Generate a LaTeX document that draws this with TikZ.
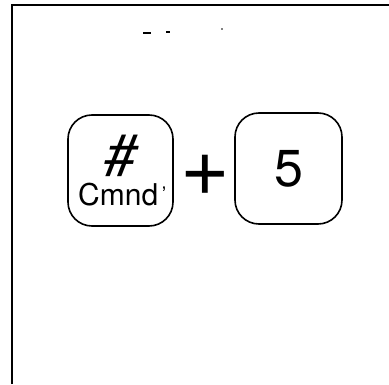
\documentclass[tikz,border=0pt]{standalone}
\usepackage{fontspec}
\setmainfont{TeX Gyre Heros}
\usetikzlibrary{positioning}
\tikzset{
  keycap/.style={draw, line width=1.6pt, rounded corners=24pt,
    minimum width=105pt, minimum height=111pt, inner sep=0pt},
  frameline/.style={line width=2pt}
}

\begin{document}
\begin{tikzpicture}[x=1pt,y=1pt]
\useasboundingbox (0,0) rectangle (389,384);
% frame
\coordinate (F1) at (12,0);
\coordinate (F2) at (12,379);
\coordinate (F3) at (389,379);
\draw[frameline] (F1) -- (F2) -- (F3);

% small marks at the top
\draw[line width=1.4pt] (143,351) -- (151,351);
\draw[line width=1.4pt] (166,352) -- (170,352);
\fill (222,355) circle (0.8);

% keys
\node[keycap] (cmnd) at (120.5,213.5) {};
\node[keycap, minimum width=107pt] (five) at (288.5,215.5)
  {\fontsize{52}{52}\selectfont 5};
\node[inner sep=0pt] (plus) at (205,209) {\fontsize{85}{85}\selectfont +};

\node[anchor=base, inner sep=0pt] (hash) at (121,209)
  {\fontsize{58}{58}\selectfont\itshape\#};
\node[anchor=base west, inner sep=0pt] (cmndtext) at (78,179)
  {\fontsize{30}{30}\selectfont Cmnd};
\node[inner sep=0pt] (tick) at (164,190) {\fontsize{20}{20}\selectfont '};
\end{tikzpicture}
\end{document}
